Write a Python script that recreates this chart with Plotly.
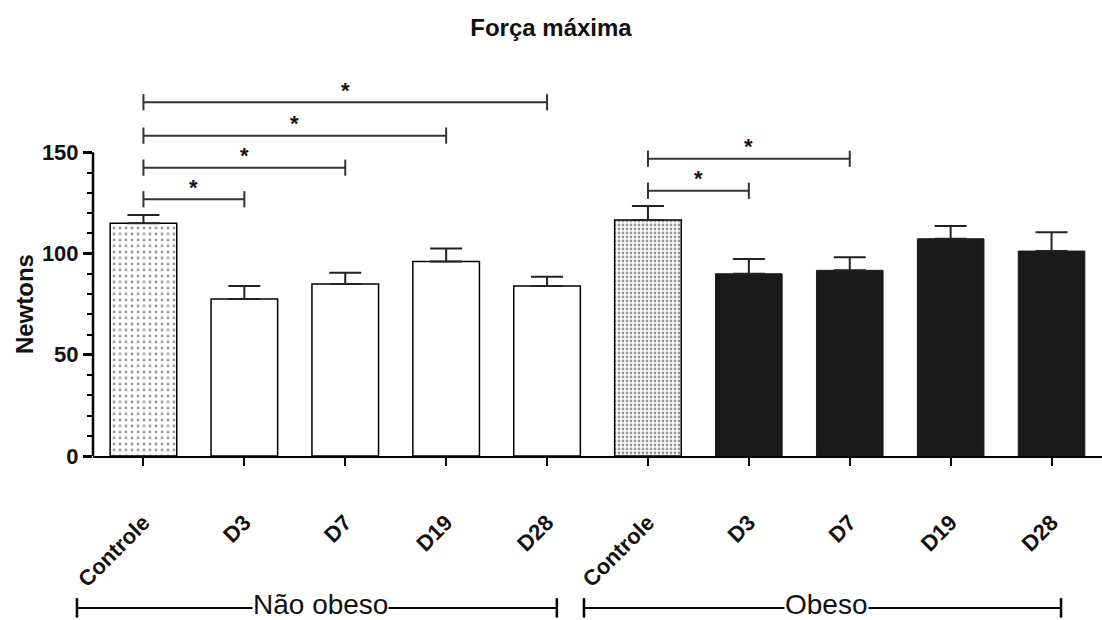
import plotly.graph_objects as go

# ---- data ----
categories = ["Controle", "D3", "D7", "D19", "D28", "Controle", "D3", "D7", "D19", "D28"]
groups = ["Não obeso", "Obeso"]
nao_obeso_means = [115, 77.5, 85, 96, 84]
nao_obeso_err = [4, 6.5, 5.5, 6.5, 4.5]
obeso_means = [116.5, 90, 91.7, 107.3, 101.2]
obeso_err = [7, 7.3, 6.5, 6.3, 9.3]
y_ticks = [0, 50, 100, 150]
y_minor = [10, 20, 30, 40, 60, 70, 80, 90, 110, 120, 130, 140]
# significance comparisons: (from index, to index, height)
sig_pairs = [(0, 1, 126.8), (0, 2, 142.4), (0, 3, 158.2), (0, 4, 174.7),
             (5, 6, 131.0), (5, 7, 146.8)]

FONT = "Liberation Sans, Arial, sans-serif"
idx = list(range(len(categories)))
fig = go.Figure()

# Não obeso: Controle (dotted) and D3..D28 (white)
fig.add_trace(go.Bar(
    x=[0], y=[nao_obeso_means[0]], width=0.66,
    marker=dict(color="white", line=dict(color="black", width=1.5),
                pattern=dict(shape=".", fgcolor="#333333", bgcolor="white", size=6, solidity=0.18)),
    error_y=dict(type="data", symmetric=False, array=[nao_obeso_err[0]], arrayminus=[0],
                 color="#222222", thickness=2, width=16),
    showlegend=False))
fig.add_trace(go.Bar(
    x=idx[1:5], y=nao_obeso_means[1:], width=0.66,
    marker=dict(color="white", line=dict(color="black", width=1.5)),
    error_y=dict(type="data", symmetric=False, array=nao_obeso_err[1:], arrayminus=[0] * 4,
                 color="#222222", thickness=2, width=16),
    showlegend=False))
# Obeso: Controle (patterned) and D3..D28 (black)
fig.add_trace(go.Bar(
    x=[5], y=[obeso_means[0]], width=0.66,
    marker=dict(color="white", line=dict(color="black", width=1.5),
                pattern=dict(shape=".", fgcolor="#333333", bgcolor="white", size=4, solidity=0.4)),
    error_y=dict(type="data", symmetric=False, array=[obeso_err[0]], arrayminus=[0],
                 color="#222222", thickness=2, width=16),
    showlegend=False))
fig.add_trace(go.Bar(
    x=idx[6:], y=obeso_means[1:], width=0.66,
    marker=dict(color="#1a1a1a", line=dict(color="#1a1a1a", width=1)),
    error_y=dict(type="data", symmetric=False, array=obeso_err[1:], arrayminus=[0] * 4,
                 color="#222222", thickness=2, width=16),
    showlegend=False))

# significance brackets
cap = 4.0
bx, by = [], []
for a, b, h in sig_pairs:
    bx += [a, b, None, a, a, None, b, b, None]
    by += [h, h, None, h - cap, h + cap, None, h - cap, h + cap, None]
    fig.add_annotation(x=(a + b) / 2, y=h, text="<b>*</b>", showarrow=False,
                       yshift=12, font=dict(family=FONT, size=22, color="#111111"))
fig.add_trace(go.Scatter(x=bx, y=by, mode="lines", line=dict(color="#333333", width=2),
                         showlegend=False, hoverinfo="skip"))

# y axis line from 0 to 150 only
fig.add_shape(type="line", xref="paper", yref="y", x0=0, x1=0, y0=0, y1=y_ticks[-1],
              line=dict(color="black", width=2.5))

# group brackets under the categories (paper coords so they are not clipped)
gy = -0.375
for (x0, x1), name in zip([(-0.0159, 0.4597), (0.4866, 0.9594)], groups):
    fig.add_shape(type="line", xref="paper", yref="paper", x0=x0, x1=x1, y0=gy, y1=gy,
                  line=dict(color="black", width=2))
    for xe in (x0, x1):
        fig.add_shape(type="line", xref="paper", yref="paper", x0=xe, x1=xe, y0=gy - 0.024, y1=gy + 0.024,
                      line=dict(color="black", width=2.5))
    fig.add_annotation(x=(x0 + x1) / 2 + 0.004, xref="paper", xanchor="center", y=gy, yref="paper",
                       text=name, showarrow=False, bgcolor="white", borderpad=0,
                       yanchor="middle", yshift=3,
                       font=dict(family=FONT, size=28, color="#111111"))

# y axis title
fig.add_annotation(x=-0.0684, xref="paper", xanchor="center", y=75, yref="y", yanchor="middle",
                   text="<b>Newtons</b>", textangle=-90,
                   showarrow=False, font=dict(family=FONT, size=24, color="#111111"))

fig.update_layout(
    width=1102, height=620,
    margin=dict(l=93, r=0, t=51, b=164),
    paper_bgcolor="white", plot_bgcolor="white",
    bargap=0.34,
    title=dict(text="<b>Força máxima</b>", x=0.5, xref="container", xanchor="center",
               y=1 - 28 / 620, yanchor="middle", font=dict(family=FONT, size=24, color="#111111")),
    xaxis=dict(range=[-0.5, 9.5], tickmode="array", tickvals=idx,
               ticktext=["<b>%s</b>" % c for c in categories], tickangle=-45,
               ticks="outside", ticklen=8, tickwidth=2, tickcolor="black",
               showline=True, linecolor="black", linewidth=2, showgrid=False, zeroline=False,
               ticklabelstandoff=35,
               tickfont=dict(family=FONT, size=22, color="#111111")),
    yaxis=dict(range=[0, 200], tickmode="array", tickvals=y_ticks,
               ticktext=["<b>%d</b>" % v for v in y_ticks],
               ticks="outside", ticklen=9, tickwidth=2.5, tickcolor="black",
               minor=dict(tickmode="array", tickvals=y_minor, ticks="outside", ticklen=5,
                          tickwidth=2, tickcolor="black"),
               showline=False, showgrid=False, zeroline=False,
               tickfont=dict(family=FONT, size=22, color="#111111")),
)

fig.write_html("out.html", config={"displayModeBar": False},
               post_script="document.body.style.margin='0';")
